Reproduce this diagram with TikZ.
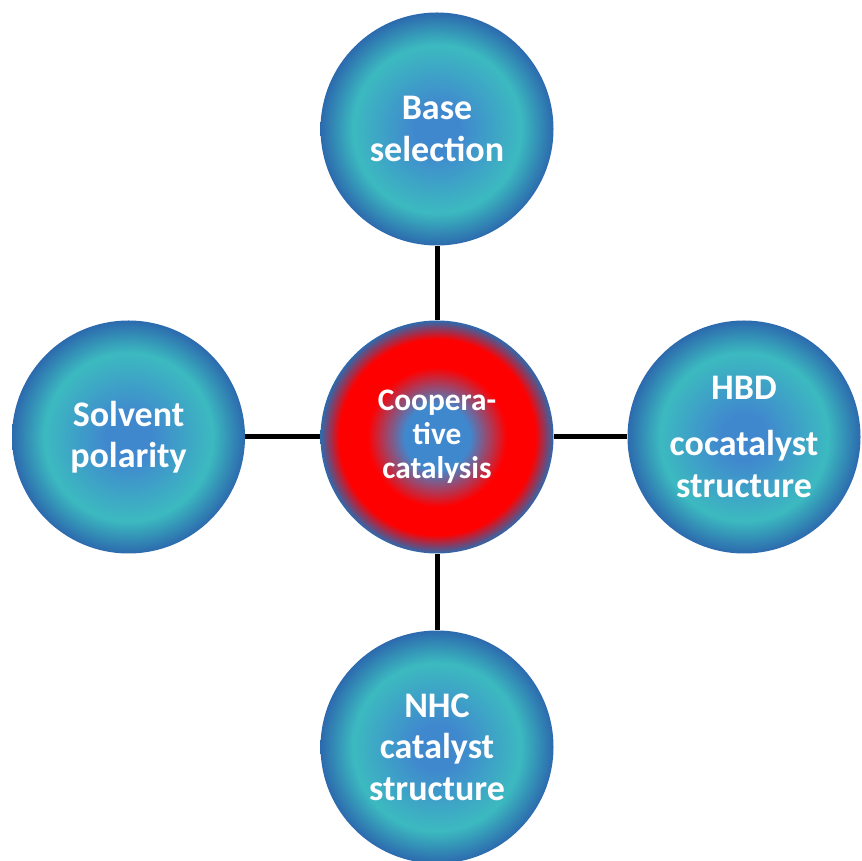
\documentclass[tikz,border=0pt]{standalone}
\usepackage{fontspec}
\setmainfont{Carlito}
\definecolor{hubblue}{RGB}{64,136,206}
\definecolor{hubteal}{RGB}{60,186,192}
\definecolor{hubedge}{RGB}{44,106,174}
\definecolor{hubred}{RGB}{255,0,0}
% the circle edge sits at 25bp of a radial shading
\pgfdeclareradialshading{tealball}{\pgfpoint{0bp}{0bp}}{color(0bp)=(hubblue); color(5bp)=(hubblue); color(18bp)=(hubteal); color(25bp)=(hubedge); color(50bp)=(hubedge)}
\pgfdeclareradialshading{redball}{\pgfpoint{0bp}{0bp}}{color(0bp)=(hubblue); color(7bp)=(hubblue); color(15bp)=(hubred); color(21bp)=(hubred); color(25bp)=(hubedge); color(50bp)=(hubedge)}
\usetikzlibrary{positioning}

\begin{document}
\begin{tikzpicture}[x=0.75pt,y=0.75pt,
  factor/.style={circle,minimum size=174.75pt,inner sep=0pt,shading=tealball,text=white,align=center,font=\bfseries\fontsize{27pt}{31pt}\selectfont},
  core/.style={factor,shading=redball,font=\bfseries\fontsize{23.5pt}{25.5pt}\selectfont},
  link/.style={line width=3.75pt,black}]
  \useasboundingbox (0,0) rectangle (861,861);
  % hub and the four factors
  \node[core] (coop) at (437,424) {Coopera-\\tive\\catalysis};
  \node[factor] (base) at (437,732) {Base\\selection};
  \node[factor] (solv) at (128.5,424) {Solvent\\polarity};
  \node[factor] (hbd) at (744,424) {HBD\\[11pt]cocatalyst\\structure};
  \node[factor] (nhc) at (437,114) {NHC\\catalyst\\structure};
  \draw[link] (base) -- (coop);
  \draw[link] (solv) -- (coop);
  \draw[link] (coop) -- (hbd);
  \draw[link] (coop) -- (nhc);
\end{tikzpicture}
\end{document}
